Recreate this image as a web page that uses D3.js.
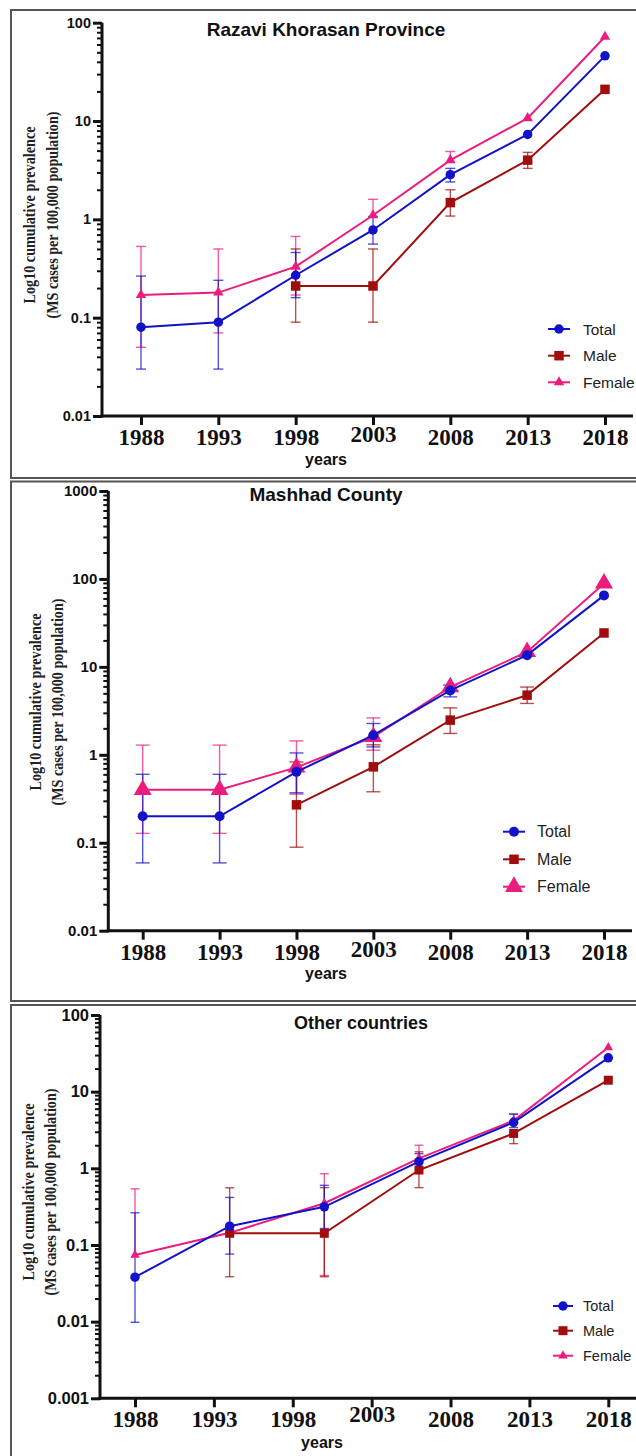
<!DOCTYPE html>
<html>
<head>
<meta charset="utf-8">
<script src="https://cdnjs.cloudflare.com/ajax/libs/d3/7.8.5/d3.min.js"></script>
<style>
  body { margin: 0; background: #fff; }
  svg { display: block; }
</style>
</head>
<body>
<script>
// values (cases per 100,000), null = no point / bar
const years = [1988, 1993, 1998, 2003, 2008, 2013, 2018];
const yearsOther = [1988, 1994, 2000, 2006, 2012, 2018];

const razaviTotal    = [0.08, 0.09, 0.27, 0.78, 2.85, 7.3, 46];
const razaviTotalLo  = [0.03, 0.03, 0.16, 0.56, 2.4, null, null];
const razaviTotalHi  = [0.265, 0.24, 0.46, 1.07, 3.3, null, null];
const razaviMale     = [null, null, 0.21, 0.21, 1.48, 4.0, 21];
const razaviMaleLo   = [null, null, 0.09, 0.09, 1.08, 3.3, null];
const razaviMaleHi   = [null, null, 0.5, 0.5, 2.0, 4.8, null];
const razaviFemale   = [0.17, 0.18, 0.33, 1.1, 4.0, 10.7, 72];
const razaviFemaleLo = [0.05, 0.07, 0.17, null, null, null, null];
const razaviFemaleHi = [0.53, 0.5, 0.67, 1.6, 4.9, null, null];

const mashhadTotal    = [0.2, 0.2, 0.64, 1.67, 5.4, 13.6, 65];
const mashhadTotalLo  = [0.059, 0.059, 0.37, 1.23, 4.56, null, null];
const mashhadTotalHi  = [0.6, 0.6, 1.05, 2.27, 6.2, null, null];
const mashhadMale     = [null, null, 0.27, 0.73, 2.48, 4.77, 24.3];
const mashhadMaleLo   = [null, null, 0.089, 0.38, 1.75, 3.84, null];
const mashhadMaleHi   = [null, null, 0.83, 1.3, 3.42, 5.9, null];
const mashhadFemale   = [0.4, 0.4, 0.72, 1.6, 5.9, 14.8, 89];
const mashhadFemaleLo = [0.128, 0.128, 0.357, 1.13, null, null, null];
const mashhadFemaleHi = [1.29, 1.29, 1.44, 2.63, null, null, null];

const otherTotal    = [0.038, 0.176, 0.315, 1.22, 3.98, 27.6];
const otherTotalLo  = [0.0098, 0.076, 0.164, null, 3.4, null];
const otherTotalHi  = [0.263, 0.417, 0.6, 1.55, 5.1, null];
const otherMale     = [null, 0.142, 0.142, 0.95, 2.85, 14.1];
const otherMaleLo   = [null, 0.0385, 0.0385, 0.56, 2.1, null];
const otherMaleHi   = [null, 0.557, 0.56, 1.64, null, null];
const otherFemale   = [0.074, 0.144, 0.35, 1.35, 4.2, 37.7];
const otherFemaleLo = [null, null, 0.04, null, null, null];
const otherFemaleHi = [0.54, null, 0.85, 2.0, 5.1, null];

const razaviTicks  = [0.01, 0.1, 1, 10, 100];
const mashhadTicks = [0.01, 0.1, 1, 10, 100, 1000];
const otherTicks   = [0.001, 0.01, 0.1, 1, 10, 100];

const seriesNames = ["Total", "Male", "Female"];
const colors = { Total: "#1212c9", Male: "#a10d0d", Female: "#ec1c7e" };
const shapes = { Total: d3.symbolCircle, Male: d3.symbolSquare, Female: d3.symbolTriangle };

const svg = d3.select("body").append("svg")
  .attr("width", 636)
  .attr("height", 1456);

const panels = [
  {
    title: "Razavi Khorasan Province", titleX: 326, titleY: 36, titleSize: 19,
    frame: [11, 10, 640, 468],
    axisX: 102, axisRight: 633, yRange: [416, 22.7], ticks: razaviTicks, tickFont: 14.5,
    xRange: [141, 605], xData: years,
    values: { Total: [razaviTotal, razaviTotalLo, razaviTotalHi],
              Male: [razaviMale, razaviMaleLo, razaviMaleHi],
              Female: [razaviFemale, razaviFemaleLo, razaviFemaleHi] },
    marker: { Total: 9.5, Male: 9.5, Female: 10.5 }, cap: 10, raise2003: 3,
    ytitle: [35, 58, 215], yearsY: 465, yearsX: 326,
    legend: { x1: 548, x2: 570, tx: 583, y: [329, 355.7, 382.3], font: 15.5 }
  },
  {
    title: "Mashhad County", titleX: 326, titleY: 501, titleSize: 19,
    frame: [11, 481.5, 640, 519.5],
    axisX: 108.3, axisRight: 632, yRange: [930.7, 491], ticks: mashhadTicks, tickFont: 15,
    xRange: [142.7, 604], xData: years,
    values: { Total: [mashhadTotal, mashhadTotalLo, mashhadTotalHi],
              Male: [mashhadMale, mashhadMaleLo, mashhadMaleHi],
              Female: [mashhadFemale, mashhadFemaleLo, mashhadFemaleHi] },
    marker: { Total: 10, Male: 9.5, Female: 18 }, cap: 14, raise2003: 3,
    ytitle: [41, 63, 702], yearsY: 979, yearsX: 326,
    legend: { x1: 503, x2: 525, tx: 537, y: [831.7, 859.3, 886.7], font: 16 }
  },
  {
    title: "Other countries", titleX: 361, titleY: 1029, titleSize: 18,
    frame: [11, 1005, 640, 480],
    axisX: 100, axisRight: 636, yRange: [1398.3, 1015], ticks: otherTicks, tickFont: 16.5,
    xRange: [135, 608.3], xData: yearsOther,
    values: { Total: [otherTotal, otherTotalLo, otherTotalHi],
              Male: [otherMale, otherMaleLo, otherMaleHi],
              Female: [otherFemale, otherFemaleLo, otherFemaleHi] },
    marker: { Total: 9.5, Male: 9, Female: 9.5 }, cap: 9, raise2003: 5,
    ytitle: [34, 56, 1192], yearsY: 1448, yearsX: 322,
    legend: { x1: 553, x2: 573, tx: 583, y: [1306, 1330.7, 1355.7], font: 14.5 }
  }
];

function symbolArea(shape, px) {
  if (shape === d3.symbolCircle) return Math.PI * (px / 2) * (px / 2);
  if (shape === d3.symbolSquare) return px * px;
  return Math.sqrt(3) / 4 * px * px;
}

function drawPanel(p) {
  const g = svg.append("g");

  g.append("rect")
    .attr("x", p.frame[0]).attr("y", p.frame[1])
    .attr("width", p.frame[2]).attr("height", p.frame[3])
    .attr("fill", "none").attr("stroke", "#555").attr("stroke-width", 2);

  const y = d3.scaleLog()
    .domain([p.ticks[0], p.ticks[p.ticks.length - 1]])
    .range(p.yRange);
  const x = d3.scaleLinear()
    .domain([1988, 2018])
    .range(p.xRange);
  const xBottom = p.yRange[0];

  // minor ticks 2..9 inside each decade
  const minor = [];
  p.ticks.slice(0, -1).forEach(d => { for (let k = 2; k < 10; k++) minor.push(d * k); });

  g.append("g")
    .attr("transform", "translate(" + p.axisX + ",0)")
    .call(d3.axisLeft(y).tickValues(minor).tickSize(5).tickFormat(""))
    .call(a => a.select(".domain").remove())
    .selectAll("line").attr("stroke", "#111").attr("stroke-width", 2);

  const yAxis = g.append("g")
    .attr("transform", "translate(" + p.axisX + ",0)")
    .call(d3.axisLeft(y).tickValues(p.ticks).tickSize(9).tickPadding(2)
      .tickFormat(d => d >= 1 ? d3.format("d")(d) : String(d)));
  yAxis.select(".domain").remove();
  yAxis.selectAll("line").attr("stroke", "#111").attr("stroke-width", 3);
  yAxis.selectAll("text")
    .attr("font-family", "Liberation Sans, Arial, sans-serif")
    .attr("font-weight", "bold").attr("font-size", p.tickFont).attr("fill", "#111");

  g.append("line")
    .attr("x1", p.axisX).attr("x2", p.axisX)
    .attr("y1", xBottom + 1.5).attr("y2", p.yRange[1])
    .attr("stroke", "#111").attr("stroke-width", 3);

  const xAxis = g.append("g")
    .attr("transform", "translate(0," + xBottom + ")")
    .call(d3.axisBottom(x).tickValues(years).tickSize(9).tickFormat(d3.format("d")));
  xAxis.select(".domain").remove();
  xAxis.selectAll("line").attr("stroke", "#111").attr("stroke-width", 3);
  xAxis.selectAll("text")
    .attr("y", d => d === 2003 ? 29 - p.raise2003 : 29).attr("dy", 0)
    .attr("font-family", "Liberation Serif, Times New Roman, serif")
    .attr("font-weight", "bold").attr("font-size", 23).attr("fill", "#111");

  g.append("line")
    .attr("x1", p.axisX - 1.5).attr("x2", p.axisRight)
    .attr("y1", xBottom).attr("y2", xBottom)
    .attr("stroke", "#111").attr("stroke-width", 3);

  g.append("text")
    .attr("x", p.titleX).attr("y", p.titleY)
    .attr("text-anchor", "middle")
    .attr("font-family", "Liberation Sans, Arial, sans-serif")
    .attr("font-weight", "bold").attr("font-size", p.titleSize).attr("fill", "#111")
    .text(p.title);

  g.append("text")
    .attr("x", p.yearsX).attr("y", p.yearsY)
    .attr("text-anchor", "middle")
    .attr("font-family", "Liberation Sans, Arial, sans-serif")
    .attr("font-weight", "bold").attr("font-size", 16).attr("fill", "#111")
    .text("years");

  // the source axis title is a condensed serif, so squeeze it to its measured length
  const ylab = g.append("text")
    .attr("transform", "rotate(-90)")
    .attr("text-anchor", "middle")
    .attr("font-family", "Liberation Serif, Times New Roman, serif")
    .attr("font-weight", "bold").attr("font-size", 16.5).attr("fill", "#222");
  ylab.append("tspan").attr("x", -p.ytitle[2]).attr("y", p.ytitle[0])
    .attr("textLength", 177).attr("lengthAdjust", "spacingAndGlyphs")
    .text("Log10 cumulative prevalence");
  ylab.append("tspan").attr("x", -p.ytitle[2]).attr("y", p.ytitle[1])
    .attr("textLength", 207).attr("lengthAdjust", "spacingAndGlyphs")
    .text("(MS cases per 100,000 population)");

  // error bars first, then lines and markers (Total drawn last)
  const order = ["Female", "Male", "Total"];
  order.forEach(name => {
    const [vals, lo, hi] = p.values[name];
    const bars = g.append("g")
      .attr("stroke", colors[name]).attr("stroke-opacity", 0.72).attr("stroke-width", 1.4);
    vals.forEach((v, i) => {
      if (v == null) return;
      const cx = x(p.xData[i]);
      [lo[i], hi[i]].forEach(e => {
        if (e == null) return;
        bars.append("line").attr("x1", cx).attr("x2", cx).attr("y1", y(v)).attr("y2", y(e));
        bars.append("line").attr("x1", cx - p.cap / 2).attr("x2", cx + p.cap / 2)
          .attr("y1", y(e)).attr("y2", y(e));
      });
    });
  });

  order.forEach(name => {
    const vals = p.values[name][0];
    const pts = vals.map((v, i) => ({ x: p.xData[i], v: v }));
    const line = d3.line()
      .defined(d => d.v != null)
      .x(d => x(d.x))
      .y(d => y(d.v));
    g.append("path")
      .datum(pts)
      .attr("d", line)
      .attr("fill", "none")
      .attr("stroke", colors[name])
      .attr("stroke-width", 2);
    g.selectAll(null)
      .data(pts.filter(d => d.v != null))
      .enter()
      .append("path")
      .attr("transform", d => "translate(" + x(d.x) + "," + y(d.v) + ")")
      .attr("d", d3.symbol(shapes[name], symbolArea(shapes[name], p.marker[name])))
      .attr("fill", colors[name]);
  });

  const L = p.legend;
  seriesNames.forEach((name, i) => {
    const ly = L.y[i];
    g.append("line")
      .attr("x1", L.x1).attr("x2", L.x2).attr("y1", ly).attr("y2", ly)
      .attr("stroke", colors[name]).attr("stroke-width", 2);
    g.append("path")
      .attr("transform", "translate(" + (L.x1 + L.x2) / 2 + "," + ly + ")")
      .attr("d", d3.symbol(shapes[name], symbolArea(shapes[name], p.marker[name])))
      .attr("fill", colors[name]);
    g.append("text")
      .attr("x", L.tx).attr("y", ly).attr("dy", "0.36em")
      .attr("font-family", "Liberation Sans, Arial, sans-serif")
      .attr("font-size", L.font).attr("fill", "#222")
      .text(name);
  });
}

panels.forEach(drawPanel);
</script>
</body>
</html>
